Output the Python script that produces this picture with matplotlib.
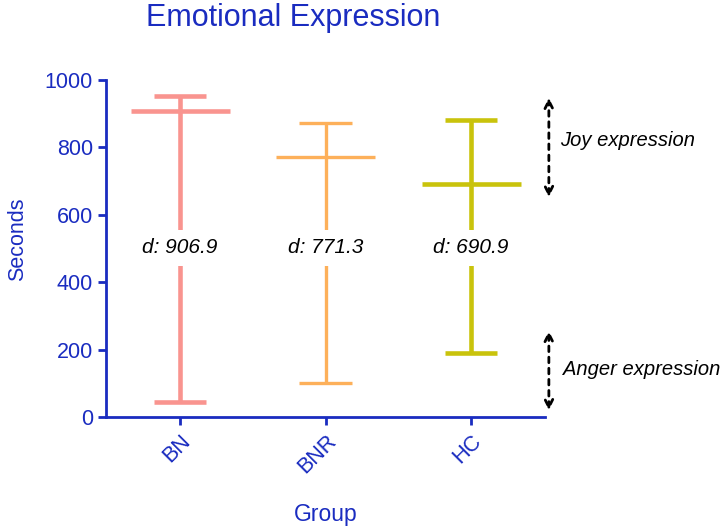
import matplotlib.pyplot as plt

groups = ["BN", "BNR", "HC"]
mins = [45, 101, 191]
medians = [906.9, 771.3, 690.9]
maxs = [952, 873, 881]
yticks = [0, 200, 400, 600, 800, 1000]

COLORS = ["#f9948f", "#fdb05a", "#c9c30c"]
WIDTHS = [3.3, 2.4, 3.3]
BLUE = "#1a2cc0"

plt.rcParams["font.family"] = ["Liberation Sans", "DejaVu Sans"]

fig = plt.figure(figsize=(7.26, 5.32), dpi=100)
ax = fig.add_axes([0.146, 0.216, 0.605, 0.634])

x = list(range(len(groups)))
for i, color, lw in zip(x, COLORS, WIDTHS):
    ax.vlines(i, mins[i], maxs[i], color=color, lw=lw, zorder=2)
    ax.hlines([mins[i], maxs[i]], i - 0.18, i + 0.18, color=color, lw=lw, zorder=2)
    ax.hlines(medians[i], i - 0.34, i + 0.34, color=color, lw=lw, zorder=2)
    ax.text(i, 502, f"d: {medians[i]:.1f}", ha="center", va="center",
            fontsize=15, style="italic", color="black", zorder=3,
            bbox=dict(facecolor="white", edgecolor="none", pad=6))

ax.set_xlim(-0.51, 2.51)
ax.set_ylim(0, 1000)
ax.set_yticks(yticks)
ax.set_xticks(x)
ax.set_xticklabels(groups, rotation=45, ha="right", rotation_mode="anchor")

for side in ["top", "right"]:
    ax.spines[side].set_visible(False)
for side in ["left", "bottom"]:
    ax.spines[side].set_color(BLUE)
    ax.spines[side].set_linewidth(2)
ax.tick_params(colors=BLUE, labelsize=15.5, width=2, length=6)
ax.tick_params(axis="x", pad=4)

ax.set_ylabel("Seconds", color=BLUE, fontsize=15.5)
ax.yaxis.set_label_coords(-0.178, 0.528)
ax.set_xlabel("Group", color=BLUE, fontsize=16.5, labelpad=18)
fig.text(293 / 726, 1 - 18 / 532, "Emotional Expression", color=BLUE,
         fontsize=22, ha="center", va="center")

# Double-headed dashed arrows outside the plot
arrow_x = 2.535
for lo, hi in [(644, 955), (12, 264)]:
    ax.annotate("", xy=(arrow_x, hi), xytext=(arrow_x, lo),
                arrowprops=dict(arrowstyle="<->", ls=(0, (2, 2)), lw=2,
                                color="black", mutation_scale=14),
                annotation_clip=False)
ax.text(2.61, 820, "Joy expression", fontsize=14.5, style="italic",
        va="center", ha="left", clip_on=False)
ax.text(2.63, 140, "Anger expression", fontsize=14.5, style="italic",
        va="center", ha="left", clip_on=False)

fig.savefig("out.png", dpi=100)
